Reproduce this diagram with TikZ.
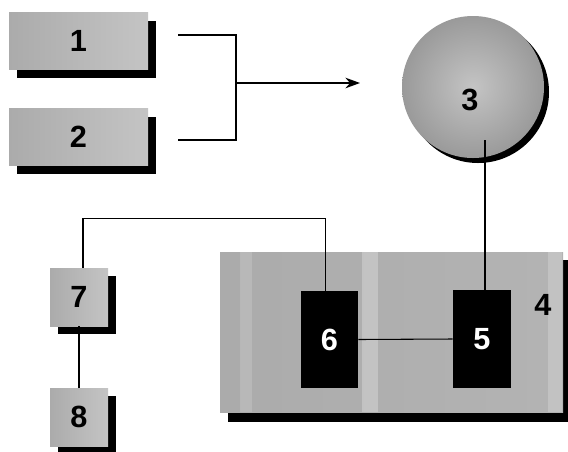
\documentclass[tikz,border=0pt]{standalone}
\usepackage{fontspec}
\setmainfont{Liberation Sans}
\usetikzlibrary{shadows,arrows.meta}
\definecolor{tex}{HTML}{ABABAB}
\definecolor{texlight}{HTML}{C4C4C4}
\tikzset{
  graybox/.style={draw=none, left color=tex, right color=texlight, middle color=tex!85!white,
    inner sep=0pt, font=\fontsize{23}{26}\selectfont\bfseries,
    drop shadow={shadow xshift=6pt, shadow yshift=-6pt, fill=black, opacity=1}},
  blackbox/.style={draw=none, fill=black, text=white, inner sep=0pt,
    font=\fontsize{23}{26}\selectfont\bfseries},
  conn/.style={draw=black, line width=0.8pt},
  lbl/.style={font=\fontsize{23}{26}\selectfont\bfseries, inner sep=0pt}
}
\begin{document}
\begin{tikzpicture}[x=0.75pt,y=-0.75pt]
\useasboundingbox (0,0) rectangle (568,451);
\fill[white] (0,0) rectangle (568,451);
% boxes 1 and 2
\node[graybox, minimum width=104.25pt, minimum height=42.75pt] (n1) at (78.5,41) {1};
\node[graybox, minimum width=104.25pt, minimum height=42.75pt] (n2) at (78.5,137) {2};
% circle 3
\fill[black] (478,92) circle (53.25pt);
\node[circle, draw=none, inner sep=0pt, minimum size=106.5pt, inner color=texlight, outer color=tex!90!black] (n3) at (473,87) {};
\node[lbl] (t3) at (470,100) {3};
% box 4
\fill[black] (228,260) rectangle (571,422);
\node[draw=none, inner sep=0pt, minimum width=257.25pt, minimum height=120pt, left color=tex, right color=tex!90!white] (n4) at (391.5,332) {};
\fill[white, opacity=0.25] (362,252) rectangle (378,412);
\fill[white, opacity=0.2] (548,252) rectangle (562,412);
\fill[white, opacity=0.15] (240,252) rectangle (252,412);
\node[lbl] (t4) at (543,305) {4};
% boxes 6 and 5
\node[blackbox, minimum width=42.75pt, minimum height=72.75pt] (n6) at (329.5,339.5) {6};
\node[blackbox, minimum width=43.5pt, minimum height=73.5pt] (n5) at (482,339) {5};
% boxes 7 and 8
\node[graybox, minimum width=43.5pt, minimum height=43.5pt] (n7) at (79,297) {7};
\node[graybox, minimum width=43.5pt, minimum height=43.5pt] (n8) at (79,417) {8};
% bracket coordinates
\coordinate (b1) at (178,35);
\coordinate (b2) at (178,140);
\coordinate (bj) at (236,83);
\coordinate (ae) at (360,83);
\coordinate (c3) at (485,140);
% connectors
\draw[conn] (b1) -| (bj);
\draw[conn] (b2) -| (bj);
\draw[conn, -{Stealth[length=11pt,width=8pt]}] (bj) -- (ae);
\draw[conn] (c3) -- (c3 |- n5.north);
\draw[conn] (n6.east) -- (n5.west);
\draw[conn] ([xshift=-3pt]n6.north) -- ++(0,-72) -| ([xshift=3pt]n7.north);
\draw[conn] (n7.south) -- (n8.north);
\end{tikzpicture}
\end{document}
